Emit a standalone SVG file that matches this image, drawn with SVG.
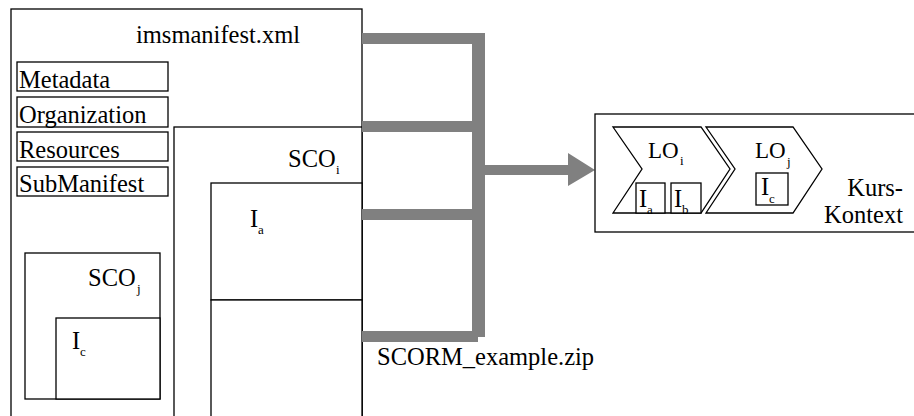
<svg xmlns="http://www.w3.org/2000/svg" width="914" height="416" viewBox="0 0 914 416">
<style>
.b{fill:#fff;stroke:#000;stroke-width:1.3}
.t{font-family:"Liberation Serif","Times New Roman",serif;font-size:24.5px;fill:#000}
.l{font-family:"Liberation Serif","Times New Roman",serif;font-size:23px;fill:#000}
.s{font-family:"Liberation Serif","Times New Roman",serif;font-size:13px;fill:#000}
.g{fill:#808080}
</style>
<rect width="914" height="416" fill="#fff"/>
<g id="manifest">
<rect class="b" x="11" y="9" width="351" height="420"/>
<text class="t" x="136" y="43">imsmanifest.xml</text>
</g>
<g id="metadata"><rect class="b" x="17" y="62" width="151" height="29"/><text class="t" x="19" y="88">Metadata</text></g>
<g id="organization"><rect class="b" x="17" y="97" width="151" height="30"/><text class="t" x="19" y="123">Organization</text></g>
<g id="resources"><rect class="b" x="17" y="132" width="151" height="29"/><text class="t" x="19" y="158">Resources</text></g>
<g id="submanifest"><rect class="b" x="17" y="167" width="151" height="29"/><text class="t" x="19" y="192">SubManifest</text></g>
<g id="sco_i">
<rect class="b" x="174" y="127" width="188" height="300"/>
<text class="t" x="288" y="167">SCO</text><text class="s" x="336" y="174">i</text>
</g>
<g id="i_a">
<rect class="b" x="211" y="183" width="151" height="117"/>
<text class="t" x="250" y="227">I</text><text class="s" x="258" y="234">a</text>
</g>
<g id="sco_i_lower"><rect class="b" x="211" y="300" width="151" height="130"/></g>
<g id="sco_j">
<rect class="b" x="25" y="253" width="135" height="146"/>
<text class="t" x="88" y="286">SCO</text><text class="s" x="137" y="293">j</text>
</g>
<g id="i_c_left">
<rect class="b" x="56" y="318" width="104" height="81"/>
<text class="t" x="72" y="349">I</text><text class="s" x="80" y="356">c</text>
</g>
<g id="connectors">
<rect class="g" x="362" y="33" width="123" height="11"/>
<rect class="g" x="472" y="33" width="13" height="304"/>
<rect class="g" x="362" y="121" width="112" height="11"/>
<rect class="g" x="362" y="209" width="112" height="11"/>
<rect class="g" x="362" y="331" width="116" height="11"/>
<polygon class="g" points="485,165 568,165 568,153 595,170 568,186 568,175 485,175"/>
</g>
<g id="zip"><text class="t" x="377" y="365">SCORM_example.zip</text></g>
<g id="kurs">
<rect class="b" x="595" y="114" width="330" height="118"/>
<text class="t" x="903" y="196" text-anchor="end">Kurs-</text>
<text class="t" x="903" y="223" text-anchor="end">Kontext</text>
</g>
<g id="lo_i">
<polygon class="b" points="613,127 701,127 730,169 701,213 613,213 642,169"/>
<text class="l" x="648" y="158">LO</text><text class="s" x="680" y="165">i</text>
</g>
<g id="lo_j">
<polygon class="b" points="706,127 793,127 822,169 793,213 706,213 735,169"/>
<text class="l" x="755" y="158">LO</text><text class="s" x="787" y="166">j</text>
</g>
<g id="lo_i_a"><rect class="b" x="636" y="183" width="29" height="30"/><text class="t" x="639" y="207">I</text><text class="s" x="647" y="214">a</text></g>
<g id="lo_i_b"><rect class="b" x="671" y="183" width="30" height="30"/><text class="t" x="674" y="207">I</text><text class="s" x="682" y="214">b</text></g>
<g id="lo_j_c"><rect class="b" x="756" y="173" width="32" height="32"/><text class="t" x="761" y="195">I</text><text class="s" x="769" y="203">c</text></g>
</svg>
